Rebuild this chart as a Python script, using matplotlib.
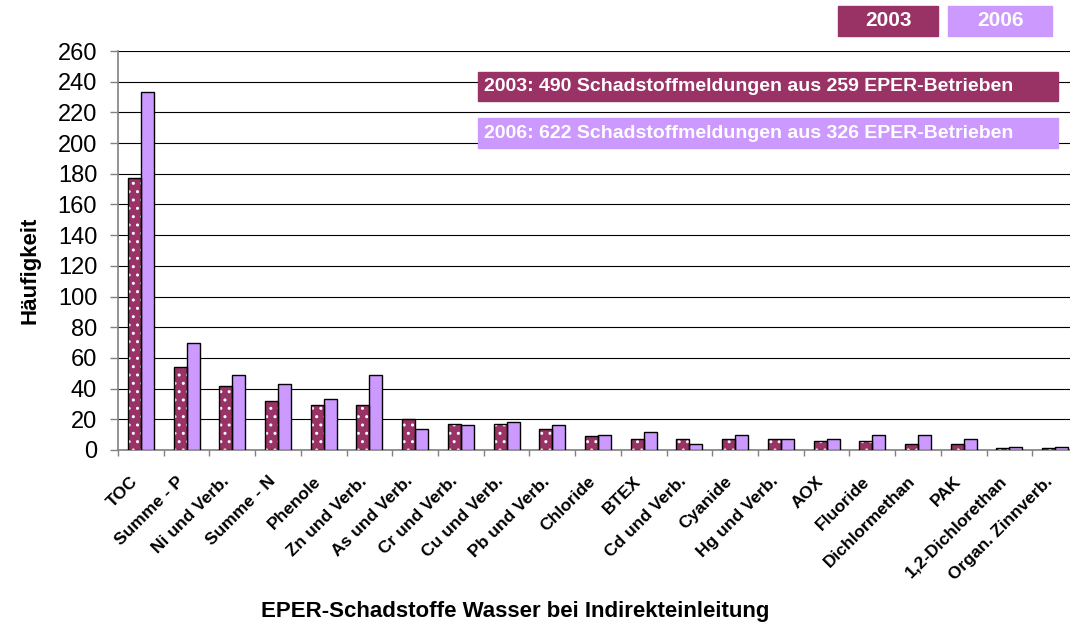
import numpy as np
import matplotlib.pyplot as plt
from matplotlib.patches import Rectangle

plt.rcParams['font.family'] = ['Liberation Sans', 'DejaVu Sans']

# Daten
kategorien = ['TOC', 'Summe - P', 'Ni und Verb.', 'Summe - N', 'Phenole',
              'Zn und Verb.', 'As und Verb.', 'Cr und Verb.', 'Cu und Verb.',
              'Pb und Verb.', 'Chloride', 'BTEX', 'Cd und Verb.', 'Cyanide',
              'Hg und Verb.', 'AOX', 'Fluoride', 'Dichlormethan', 'PAK',
              '1,2-Dichlorethan', 'Organ. Zinnverb.']
werte_2003 = [177, 54, 42, 32, 29, 29, 20, 17, 17, 14, 9, 7, 7, 7, 7, 6, 6, 4, 4, 1, 1]
werte_2006 = [233, 70, 49, 43, 33, 49, 14, 16, 18, 16, 10, 12, 4, 10, 7, 7, 10, 10, 7, 2, 2]
y_ticks = list(range(0, 261, 20))

info_2003 = '2003: 490 Schadstoffmeldungen aus 259 EPER-Betrieben'
info_2006 = '2006: 622 Schadstoffmeldungen aus 326 EPER-Betrieben'

farbe_2003 = '#993366'
farbe_2006 = '#CC99FF'

W, H = 1070, 629
fig = plt.figure(figsize=(W / 100, H / 100), dpi=100)
ax = fig.add_axes([118 / W, 179 / H, 960 / W, 399 / H])

x = np.arange(len(kategorien))
b = 0.285
# 2003: gefuellt mit weissen Punkten, danach schwarzer Rand
ax.bar(x - b / 2, werte_2003, b, color=farbe_2003, edgecolor='white',
       hatch='..', linewidth=0, zorder=3)
ax.bar(x - b / 2, werte_2003, b, fill=False, edgecolor='black',
       linewidth=1, zorder=4)
ax.bar(x + b / 2, werte_2006, b, color=farbe_2006, edgecolor='black',
       linewidth=1, zorder=3)

ax.set_xlim(-0.5, len(kategorien) - 0.5)
ax.set_ylim(0, 260)
ax.set_yticks(y_ticks)
ax.tick_params(axis='y', labelsize=17, length=6, pad=9, color='#808080', width=1)

ax.set_xticks(x)
ax.set_xticklabels(kategorien, rotation=45, ha='right', fontsize=12.5,
                   fontweight='bold')
ax.set_xticks(np.arange(len(kategorien) + 1) - 0.5, minor=True)
ax.tick_params(axis='x', which='major', length=0, pad=17)
ax.tick_params(axis='x', which='minor', length=4, color='#808080', width=1)

ax.yaxis.grid(True, color='black', linewidth=0.8)
ax.set_axisbelow(True)
for s in ['top', 'right']:
    ax.spines[s].set_visible(False)
for s in ['left', 'bottom']:
    ax.spines[s].set_color('#808080')
    ax.spines[s].set_linewidth(1.2)

fig.text(30 / W, 1 - 270 / H, 'Häufigkeit', rotation=90, fontsize=16,
         fontweight='bold', ha='center', va='center')
fig.text(515 / W, 1 - 612 / H, 'EPER-Schadstoffe Wasser bei Indirekteinleitung',
         fontsize=16, fontweight='bold', ha='center', va='center')

# Infokaesten
for y0, y1, farbe, txt in [(72, 101, farbe_2003, info_2003),
                           (118, 148, farbe_2006, info_2006)]:
    fig.add_artist(Rectangle((478 / W, 1 - y1 / H), 580 / W, (y1 - y0) / H,
                             transform=fig.transFigure, color=farbe, zorder=5))
    fig.text(484 / W, 1 - (y0 + y1) / 2 / H, txt, color='white', fontsize=14,
             fontweight='bold', ha='left', va='center', zorder=6)

# Legende
for x0, x1, farbe, txt in [(838, 938, farbe_2003, '2003'),
                           (948, 1052, farbe_2006, '2006')]:
    fig.add_artist(Rectangle((x0 / W, 1 - 36 / H), (x1 - x0) / W, 30 / H,
                             transform=fig.transFigure, color=farbe, zorder=5))
    fig.text((x0 + x1) / 2 / W, 1 - 21 / H, txt, color='white', fontsize=15,
             fontweight='bold', ha='center', va='center', zorder=6)

fig.savefig('out.png', dpi=100)
